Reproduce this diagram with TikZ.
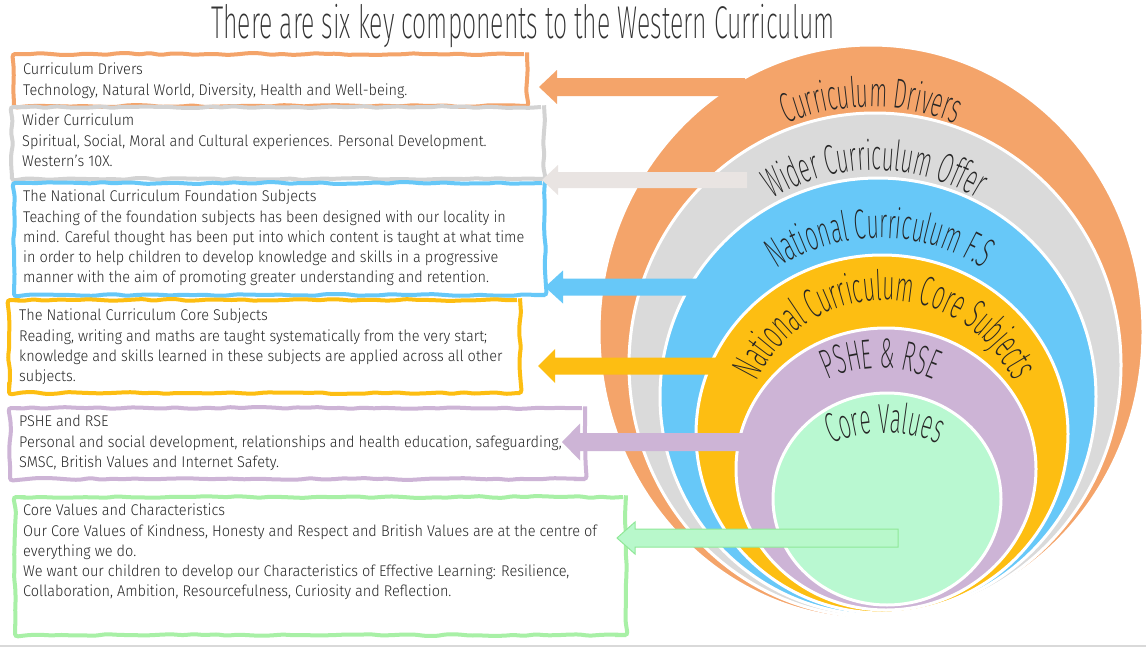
\documentclass[tikz,border=0pt]{standalone}
\usepackage{fontspec}
\usetikzlibrary{decorations.pathmorphing,decorations.text,calc}
\IfFontExistsTF{Fira Sans Light}{%
  \newfontfamily\bodyfont{Fira Sans Light}[FakeStretch=0.935]
}{%
  \newfontfamily\bodyfont{Fira Sans}[FakeStretch=0.935]
}
\IfFontExistsTF{Fira Sans ExtraLight}{%
  \newfontfamily\thinfont{Fira Sans ExtraLight}[FakeStretch=0.54]
  \newfontfamily\ringfont{Fira Sans ExtraLight}[FakeStretch=0.5]
}{%
  \newfontfamily\thinfont{\bodyfontname}[FakeStretch=0.54]
  \newfontfamily\ringfont{\bodyfontname}[FakeStretch=0.5]
}
\definecolor{orangeC}{HTML}{F4A46A}
\definecolor{grayC}{HTML}{DADADA}
\definecolor{blueC}{HTML}{67C8F8}
\definecolor{yellowC}{HTML}{FDBE12}
\definecolor{purpleC}{HTML}{CDB4D6}
\definecolor{greenC}{HTML}{B9F8D1}
\definecolor{grayArrow}{HTML}{E9E4E2}
\definecolor{grayBox}{HTML}{D3D3D3}
\definecolor{greenBox}{HTML}{A8F0A6}
\definecolor{greenArrow}{HTML}{B8F8CB}
\definecolor{greenEdge}{HTML}{90E898}
\definecolor{txt}{HTML}{262626}
\newcommand{\blockarrow}[6]{%
  \path[#1] (#3) -- ($(#3)+(#6,-#5)$) -- ($(#3)+(#6,-#4)$) -- ($(#2)+(0,-#4)$)
    -- ($(#2)+(0,#4)$) -- ($(#3)+(#6,#4)$) -- ($(#3)+(#6,#5)$) -- cycle;}
\tikzset{
  ring/.style={fill=#1, draw=white, line width=3pt},
  wavy/.style={draw=#1, line width=4pt, decorate,
    decoration={random steps, segment length=11pt, amplitude=1pt},
    rounded corners=3pt, anchor=north west, inner sep=0pt},
  bodytext/.style={anchor=north west, inner sep=0pt, align=left, text=txt,
    font=\bodyfont\fontsize{15.5}{20.3}\selectfont},
  ringlabel/.style={decorate, decoration={text along path, text align=center,
    text color=txt, text={|\ringfont\fontsize{42}{42}\selectfont|#1}}},
}
\begin{document}
\begin{tikzpicture}[x=1pt, y=-1pt]
\pgfmathsetseed{7}
\useasboundingbox (0,0) rectangle (1146,648);
\fill[white] (0,0) rectangle (1146,648);
\draw[line width=2pt, color=black!15] (0,645.5) -- (1146,645.5);

% title
\node[anchor=base, text=black!80, font=\thinfont\fontsize{46}{46}\selectfont] (title) at (523,38)
  {There are six key components to the Western Curriculum};

% rings
\fill[ring=orangeC] (871,332) ellipse [x radius=272, y radius=287];
\fill[ring=grayC]   (875,365) ellipse [x radius=246, y radius=252];
\fill[ring=blueC]   (878,396.5) ellipse [x radius=218, y radius=218.5];
\fill[ring=yellowC] (882,434) ellipse [x radius=186, y radius=179];
\fill[ring=purpleC] (886,469) ellipse [x radius=150, y radius=141];
\fill[ring=greenC]  (887,499) ellipse [x radius=114, y radius=106];

% ring labels
\path[ringlabel={Curriculum Drivers}] (871,332) ++(230:225) arc[start angle=230, end angle=310, radius=225];
\path[ringlabel={Wider Curriculum Offer}] (875,365) ++(215:195) arc[start angle=215, end angle=325, radius=195];
\path[ringlabel={National Curriculum F.S}] (880,428) ++(210:190) arc[start angle=210, end angle=330, radius=190];
\path[ringlabel={National Curriculum Core Subjects}] (885,442) ++(183:142) arc[start angle=183, end angle=357, radius=142];
\path[ringlabel={PSHE {\&} RSE}] (880,495) ++(220:127) arc[start angle=220, end angle=320, radius=127];
\path[ringlabel={Core Values}] (885,574) ++(225:141) arc[start angle=225, end angle=315, radius=141];

% boxes
\node[wavy=orangeC, minimum width=513pt, minimum height=52pt] (boxA) at (12,52) {};
\node[wavy=grayBox, minimum width=532pt, minimum height=72pt] (boxB) at (10,105) {};
\node[wavy=blueC, minimum width=531pt, minimum height=112pt] (boxC) at (12,181) {};
\node[wavy=yellowC, minimum width=511pt, minimum height=93pt] (boxD) at (7,298) {};
\node[wavy=purpleC, minimum width=575pt, minimum height=71pt] (boxE) at (8,406) {};
\node[wavy=greenBox, minimum width=611pt, minimum height=138pt] (boxF) at (13,495) {};

% texts
\node[bodytext] (textA) at (23,60.3) {\strut Curriculum Drivers\\
Technology, Natural World, Diversity, Health and Well-being.};
\node[bodytext] (textB) at (22,111.3) {\strut Wider Curriculum\\
Spiritual, Social, Moral and Cultural experiences. Personal Development.\\
Western’s 10X.};
\node[bodytext] (textC) at (23,187.3) {\strut The National Curriculum Foundation Subjects\\
Teaching of the foundation subjects has been designed with our locality in\\
mind. Careful thought has been put into which content is taught at what time\\
in order to help children to develop knowledge and skills in a progressive\\
manner with the aim of promoting greater understanding and retention.};
\node[bodytext] (textD) at (19,306.3) {\strut The National Curriculum Core Subjects\\
Reading, writing and maths are taught systematically from the very start;\\
knowledge and skills learned in these subjects are applied across all other\\
subjects.};
\node[bodytext] (textE) at (19,412.3) {\strut PSHE and RSE\\
Personal and social development, relationships and health education, safeguarding,\\
SMSC, British Values and Internet Safety.};
\node[bodytext] (textF) at (23,501.3) {\strut Core Values and Characteristics\\
Our Core Values of Kindness, Honesty and Respect and British Values are at the centre of\\
everything we do.\\
We want our children to develop our Characteristics of Effective Learning: Resilience,\\
Collaboration, Ambition, Resourcefulness, Curiosity and Reflection.};

% arrows
\coordinate (tailA) at (745,87);   \coordinate (tipA) at (539,87);
\coordinate (tailB) at (747,180);  \coordinate (tipB) at (542,180);
\coordinate (tailC) at (700,287);  \coordinate (tipC) at (545,287);
\coordinate (tailD) at (725,366);  \coordinate (tipD) at (538,366);
\coordinate (tailE) at (760,442);  \coordinate (tipE) at (562,442);
\coordinate (tailF) at (898,538);  \coordinate (tipF) at (617,538);
\blockarrow{fill=orangeC}{tailA}{tipA}{9}{17}{18}
\blockarrow{fill=grayArrow}{tailB}{tipB}{8}{15}{16}
\blockarrow{fill=blueC}{tailC}{tipC}{8.5}{16.5}{18}
\blockarrow{fill=yellowC}{tailD}{tipD}{8.5}{17}{17}
\blockarrow{fill=purpleC}{tailE}{tipE}{9}{18.5}{18}
\blockarrow{fill=greenArrow, draw=greenEdge, line width=1pt}{tailF}{tipF}{9}{16}{18}
\end{tikzpicture}
\end{document}
